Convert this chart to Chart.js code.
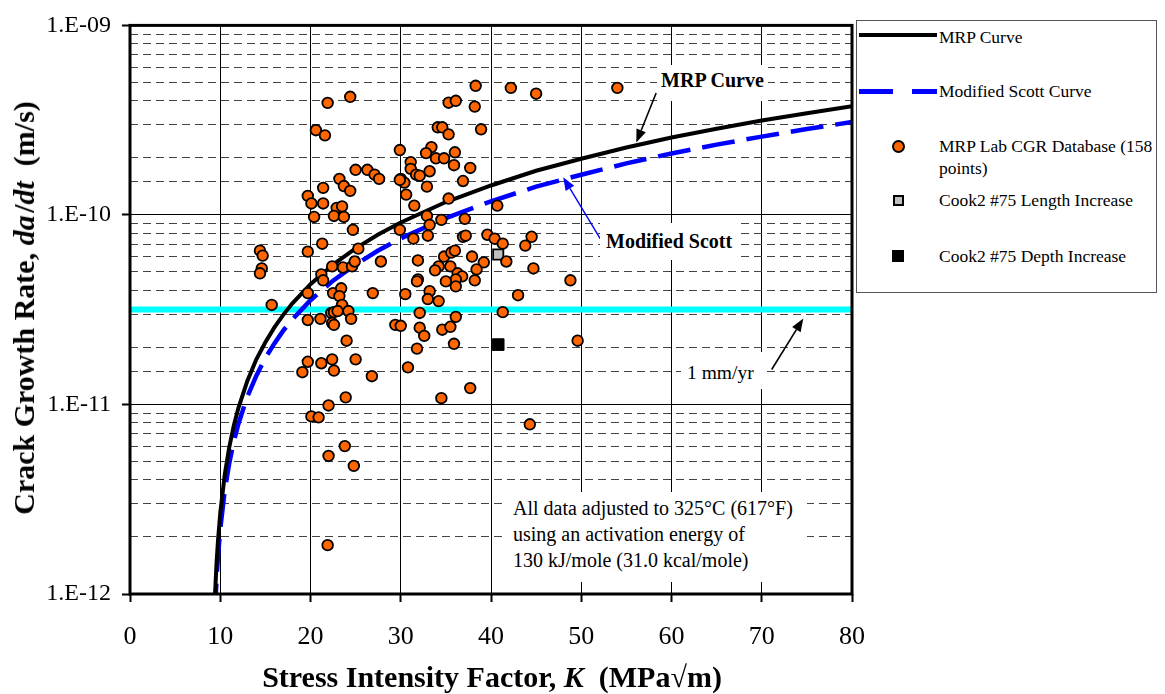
<!DOCTYPE html>
<html>
<head>
<meta charset="utf-8">
<script src="https://cdn.jsdelivr.net/npm/chart.js@4.4.1/dist/chart.umd.min.js"></script>
<style>
  body { margin: 0; background: #fff; }
  #wrap { position: relative; width: 1165px; height: 694px; font-family: 'Liberation Serif', 'Times New Roman', serif; color: #000; }
  #wrap canvas { position: absolute; left: 0; top: 0; }
  .abs { position: absolute; white-space: nowrap; }
  .note { position: absolute; white-space: nowrap; background: #fff; }
  .lg { position: absolute; white-space: nowrap; font-size: 17.5px; line-height: 22px; left: 939px; }
</style>
</head>
<body>
<div id="wrap">
  <canvas id="chart" width="1165" height="694"></canvas>

  <div class="abs" style="left:24px; top:308px; transform:translate(-50%,-50%) rotate(-90deg); font-size:30px; font-weight:bold;">Crack Growth Rate, <i>da</i>&#8202;/<i>dt</i>&nbsp; (m/s)</div>
  <div class="abs" style="left:492px; top:677px; transform:translate(-50%,-50%); font-size:30px; font-weight:bold;">Stress Intensity Factor, <i>K</i>&nbsp; (MPa√m)</div>

  <div class="note" style="left:657px; top:65px; width:111px; height:36px; font-size:20px; font-weight:bold; line-height:30px; text-align:center;">MRP Curve</div>
  <div class="note" style="left:600px; top:223px; width:137px; height:37px; font-size:20px; font-weight:bold; line-height:36px; padding-left:6px; box-sizing:border-box;">Modified Scott</div>
  <div class="note" style="left:681px; top:352px; width:84px; height:37px; font-size:19.5px; line-height:42px; padding-left:6px; box-sizing:border-box;">1 mm/yr</div>
  <div class="note" style="left:507px; top:492px; width:300px; height:90px; font-size:20px; line-height:26px; padding:3px 0 0 6px; box-sizing:border-box;">All data adjusted to 325°C (617°F)<br>using an activation energy of<br>130 kJ/mole (31.0 kcal/mole)</div>

  <div class="abs" style="left:856px; top:20px; width:301px; height:273px; border:1px solid #555; box-sizing:border-box; background:#fff;"></div>
  <div class="abs" style="left:859px; top:33px; width:78px; height:4px; background:#000;"></div>
  <div class="lg" style="top:26px;">MRP Curve</div>
  <div class="abs" style="left:859px; top:89px; width:34px; height:4.5px; background:#00f;"></div>
  <div class="abs" style="left:912px; top:89px; width:25px; height:4.5px; background:#00f;"></div>
  <div class="lg" style="top:80px;">Modified Scott Curve</div>
  <div class="abs" style="left:891.5px; top:139.5px; width:13px; height:13px; border-radius:50%; border:2px solid #000; background:#ff6600; box-sizing:border-box;"></div>
  <div class="lg" style="top:136px; line-height:21.5px;">MRP Lab CGR Database (158<br>points)</div>
  <div class="abs" style="left:892.5px; top:194.5px; width:11px; height:11px; border:2px solid #000; background:#c0c0c0; box-sizing:border-box;"></div>
  <div class="lg" style="top:189px;">Cook2 #75 Length Increase</div>
  <div class="abs" style="left:892px; top:250px; width:12px; height:12px; background:#000;"></div>
  <div class="lg" style="top:244.5px;">Cook2 #75 Depth Increase</div>
</div>

<script>
// MRP lab CGR database, 158 points (K in MPa√m, da/dt in m/s)
const labK = [
    21.9, 24.4, 20.6, 21.6, 25.0, 26.3, 27.1, 27.6, 23.2, 23.7,
    24.4, 21.4, 19.7, 20.1, 21.4, 22.9, 23.5, 20.4, 22.6, 23.7,
    24.7, 21.3, 19.7, 25.3, 22.4, 23.6, 24.6, 24.9, 27.8, 21.2,
    21.4, 14.4, 14.7, 14.6, 14.4, 15.7, 19.7, 22.5, 23.4, 23.2,
    23.5, 22.3, 22.6, 23.0, 24.2, 24.5, 19.7, 21.1, 22.4, 22.6,
    26.9, 24.0, 19.7, 19.1, 21.2, 22.4, 22.6, 25.0, 26.8, 23.9,
    22.0, 20.1, 20.9, 23.8, 22.0, 24.8, 21.9, 44.3, 38.3, 42.2,
    45.0, 54.0, 35.3, 36.1, 38.2, 34.1, 34.6, 35.3, 38.9, 29.9,
    33.4, 32.8, 36.0, 33.9, 34.8, 31.1, 31.1, 35.9, 37.7, 31.7,
    32.1, 33.2, 30.0, 30.4, 36.9, 32.9, 30.6, 31.5, 35.3, 40.7,
    32.9, 34.5, 37.1, 29.9, 33.2, 31.4, 33.0, 36.9, 37.2, 39.6,
    40.4, 41.3, 44.5, 43.8, 31.9, 34.8, 35.6, 36.0, 37.9, 39.2,
    41.7, 44.7, 48.8, 34.2, 33.8, 35.5, 36.3, 36.8, 38.4, 38.2,
    36.1, 35.0, 36.1, 31.9, 31.8, 30.5, 33.2, 33.0, 34.2, 43.0,
    32.1, 41.3, 36.1, 29.4, 30.0, 32.1, 32.6, 34.6, 35.5, 35.9,
    31.8, 49.6, 30.8, 37.7, 34.5, 29.9
]
const labRate = [
    3.9e-10, 4.2e-10, 2.8e-10, 2.63e-10, 1.73e-10, 1.73e-10, 1.63e-10, 1.55e-10, 1.55e-10, 1.42e-10,
    1.34e-10, 1.39e-10, 1.26e-10, 1.15e-10, 1.15e-10, 1.09e-10, 1.11e-10, 9.76e-11, 9.88e-11, 9.76e-11,
    8.35e-11, 7.05e-11, 6.4e-11, 6.64e-11, 5.35e-11, 5.28e-11, 5.35e-11, 5.68e-11, 5.68e-11, 4.86e-11,
    4.52e-11, 6.48e-11, 6.1e-11, 5.22e-11, 4.92e-11, 3.35e-11, 3.87e-11, 3.87e-11, 4.1e-11, 3.73e-11,
    3.35e-11, 3.04e-11, 3.07e-11, 3.11e-11, 3.11e-11, 2.83e-11, 2.79e-11, 2.83e-11, 2.69e-11, 2.63e-11,
    3.87e-11, 2.17e-11, 1.68e-11, 1.48e-11, 1.65e-11, 1.73e-11, 1.51e-11, 1.73e-11, 1.41e-11, 1.09e-11,
    9.88e-12, 8.65e-12, 8.55e-12, 6.03e-12, 5.35e-12, 4.74e-12, 1.81e-12, 7.86e-12, 4.8e-10, 4.68e-10,
    4.36e-10, 4.68e-10, 3.91e-10, 4.0e-10, 3.73e-10, 2.9e-10, 2.9e-10, 2.66e-10, 2.83e-10, 2.2e-10,
    2.28e-10, 2.12e-10, 2.14e-10, 1.99e-10, 1.99e-10, 1.9e-10, 1.75e-10, 1.83e-10, 1.77e-10, 1.63e-10,
    1.61e-10, 1.7e-10, 1.55e-10, 1.48e-10, 1.51e-10, 1.41e-10, 1.28e-10, 1.12e-10, 1.22e-10, 1.12e-10,
    9.88e-11, 9.42e-11, 9.53e-11, 8.35e-11, 8.87e-11, 7.49e-11, 7.77e-11, 7.67e-11, 7.77e-11, 7.86e-11,
    7.49e-11, 7.05e-11, 7.67e-11, 6.89e-11, 5.75e-11, 6.03e-11, 6.33e-11, 6.48e-11, 6.03e-11, 5.62e-11,
    5.68e-11, 5.22e-11, 4.52e-11, 5.35e-11, 5.1e-11, 5.35e-11, 4.92e-11, 4.74e-11, 5.16e-11, 4.52e-11,
    4.57e-11, 4.46e-11, 4.2e-11, 4.57e-11, 4.46e-11, 3.82e-11, 3.96e-11, 3.6e-11, 3.51e-11, 3.77e-11,
    3.04e-11, 3.07e-11, 2.9e-11, 2.63e-11, 2.6e-11, 2.54e-11, 2.3e-11, 2.48e-11, 2.57e-11, 2.09e-11,
    1.97e-11, 2.17e-11, 1.57e-11, 1.22e-11, 1.08e-11, 1.53e-10
]

// Cook2 #75 field points
const cookLengthK = [40.8]
const cookLengthRate = [6.18e-11]
const cookDepthK = [40.8]
const cookDepthRate = [2.07e-11]

// disposition curves read along K
const curveK = [9.4, 9.5, 9.6, 9.75, 10, 10.5, 11, 11.5, 12, 13, 14, 15, 16, 17, 18, 20, 22.5, 25, 27.5, 30, 35, 40, 45, 50, 55, 60, 65, 70, 75, 80]
const mrpRate = [
    9.2e-13, 1.19e-12, 1.48e-12, 1.91e-12, 2.67e-12, 4.27e-12, 5.96e-12, 7.73e-12, 9.55e-12, 1.33e-11,
    1.73e-11, 2.13e-11, 2.55e-11, 2.98e-11, 3.42e-11, 4.31e-11, 5.47e-11, 6.66e-11, 7.88e-11, 9.13e-11,
    1.17e-10, 1.43e-10, 1.71e-10, 1.98e-10, 2.27e-10, 2.56e-10, 2.85e-10, 3.15e-10, 3.44e-10, 3.75e-10
]
const scottRate = [
    7.6e-13, 9.8e-13, 1.22e-12, 1.58e-12, 2.2e-12, 3.52e-12, 4.91e-12, 6.37e-12, 7.87e-12, 1.10e-11,
    1.42e-11, 1.76e-11, 2.10e-11, 2.46e-11, 2.81e-11, 3.55e-11, 4.50e-11, 5.48e-11, 6.49e-11, 7.52e-11,
    9.63e-11, 1.18e-10, 1.41e-10, 1.63e-10, 1.87e-10, 2.11e-10, 2.35e-10, 2.59e-10, 2.84e-10, 3.09e-10
]

// 1 mm/yr reference rate
const oneMmK = [0, 80]
const oneMmRate = [3.17e-11, 3.17e-11]

// annotation arrows, [K, rate] from -> to
const arrowNotes = [
    { from: [58.3, 4.4e-10], to: [56.1, 2.41e-10], color: '#000', width: 1.6 },
    { from: [52.1, 7.5e-11], to: [48.0, 1.58e-10], color: '#0000ff', width: 1.4 },
    { from: [71.1, 1.53e-11], to: [74.6, 2.84e-11], color: '#000', width: 1.6 }
]

const xTicks = [0, 10, 20, 30, 40, 50, 60, 70, 80]

function pairs(xs, ys) {
    return xs.map((v, i) => ({ x: v, y: ys[i] }))
}

function isDecade(v) {
    const e = Math.log10(v)
    return Math.abs(e - Math.round(e)) < 1e-6
}

function drawArrow(ctx, x1, y1, x2, y2, color, width) {
    const ang = Math.atan2(y2 - y1, x2 - x1)
    const len = 13
    const half = 5
    const bx = x2 - len * Math.cos(ang)
    const by = y2 - len * Math.sin(ang)
    ctx.save()
    ctx.strokeStyle = color
    ctx.fillStyle = color
    ctx.lineWidth = width
    ctx.beginPath()
    ctx.moveTo(x1, y1)
    ctx.lineTo(bx, by)
    ctx.stroke()
    ctx.beginPath()
    ctx.moveTo(x2, y2)
    ctx.lineTo(bx + half * Math.sin(ang), by - half * Math.cos(ang))
    ctx.lineTo(bx - half * Math.sin(ang), by + half * Math.cos(ang))
    ctx.closePath()
    ctx.fill()
    ctx.restore()
}

const frameAndArrows = {
    id: 'frameAndArrows',
    afterDatasetsDraw(chart) {
        const { ctx, chartArea: a, scales } = chart
        arrowNotes.forEach(n => {
            drawArrow(ctx,
                scales.x.getPixelForValue(n.from[0]), scales.y.getPixelForValue(n.from[1]),
                scales.x.getPixelForValue(n.to[0]), scales.y.getPixelForValue(n.to[1]),
                n.color, n.width)
        })
        ctx.save()
        ctx.strokeStyle = '#000'
        ctx.lineWidth = 3
        ctx.strokeRect(a.left, a.top, a.right - a.left, a.bottom - a.top)
        ctx.restore()
    }
}

const serif = "'Liberation Serif', 'Times New Roman', serif"

new Chart(document.getElementById('chart'), {
    type: 'scatter',
    data: {
        datasets: [
            {
                label: 'MRP Lab CGR Database (158 points)',
                data: pairs(labK, labRate),
                pointStyle: 'circle',
                pointRadius: 5.3,
                pointBackgroundColor: '#ff6600',
                pointBorderColor: '#000',
                pointBorderWidth: 1.8
            },
            {
                label: 'Cook2 #75 Length Increase',
                data: pairs(cookLengthK, cookLengthRate),
                pointStyle: 'rect',
                pointRadius: 7.2,
                pointBackgroundColor: '#c0c0c0',
                pointBorderColor: '#000',
                pointBorderWidth: 1.8
            },
            {
                label: 'Cook2 #75 Depth Increase',
                data: pairs(cookDepthK, cookDepthRate),
                pointStyle: 'rect',
                pointRadius: 8.2,
                pointBackgroundColor: '#000',
                pointBorderColor: '#000',
                pointBorderWidth: 1
            },
            {
                label: 'MRP Curve',
                data: pairs(curveK, mrpRate),
                showLine: true,
                borderColor: '#000',
                borderWidth: 4,
                pointRadius: 0,
                tension: 0
            },
            {
                label: 'Modified Scott Curve',
                data: pairs(curveK, scottRate),
                showLine: true,
                borderColor: '#0000ff',
                borderWidth: 4.5,
                borderDash: [33, 12],
                borderCapStyle: 'butt',
                pointRadius: 0,
                tension: 0
            },
            {
                label: '1 mm/yr',
                data: pairs(oneMmK, oneMmRate),
                showLine: true,
                borderColor: '#00ffff',
                borderWidth: 6,
                pointRadius: 0
            }
        ]
    },
    options: {
        responsive: false,
        animation: false,
        events: [],
        layout: { padding: { left: 0, top: 20, right: 313, bottom: 0 } },
        plugins: {
            legend: { display: false },
            tooltip: { enabled: false }
        },
        scales: {
            x: {
                type: 'linear',
                min: 0,
                max: 80,
                afterFit: s => { s.height = 100 },
                afterBuildTicks: s => { s.ticks = xTicks.map(v => ({ value: v })) },
                border: { display: false },
                grid: {
                    color: '#000',
                    lineWidth: 1,
                    tickLength: 8,
                    tickWidth: 2,
                    tickColor: '#000'
                },
                ticks: {
                    color: '#000',
                    padding: 20,
                    font: { family: serif, size: 26 }
                }
            },
            y: {
                type: 'logarithmic',
                min: 1e-12,
                max: 1e-9,
                afterFit: s => { s.width = 130 },
                border: {
                    display: false,
                    dash: ctx => (ctx.tick && !isDecade(ctx.tick.value)) ? [8, 5] : []
                },
                grid: {
                    color: ctx => (ctx.tick && isDecade(ctx.tick.value)) ? '#000' : '#444',
                    lineWidth: 1,
                    tickLength: 8,
                    tickWidth: 2,
                    tickColor: ctx => (ctx.tick && isDecade(ctx.tick.value)) ? '#000' : 'rgba(0,0,0,0)'
                },
                ticks: {
                    autoSkip: false,
                    color: '#000',
                    padding: 11,
                    font: { family: serif, size: 24 },
                    callback: v => isDecade(v) ? '1.E-' + String(-Math.round(Math.log10(v))).padStart(2, '0') : ''
                }
            }
        }
    },
    plugins: [frameAndArrows]
})
</script>
</body>
</html>
